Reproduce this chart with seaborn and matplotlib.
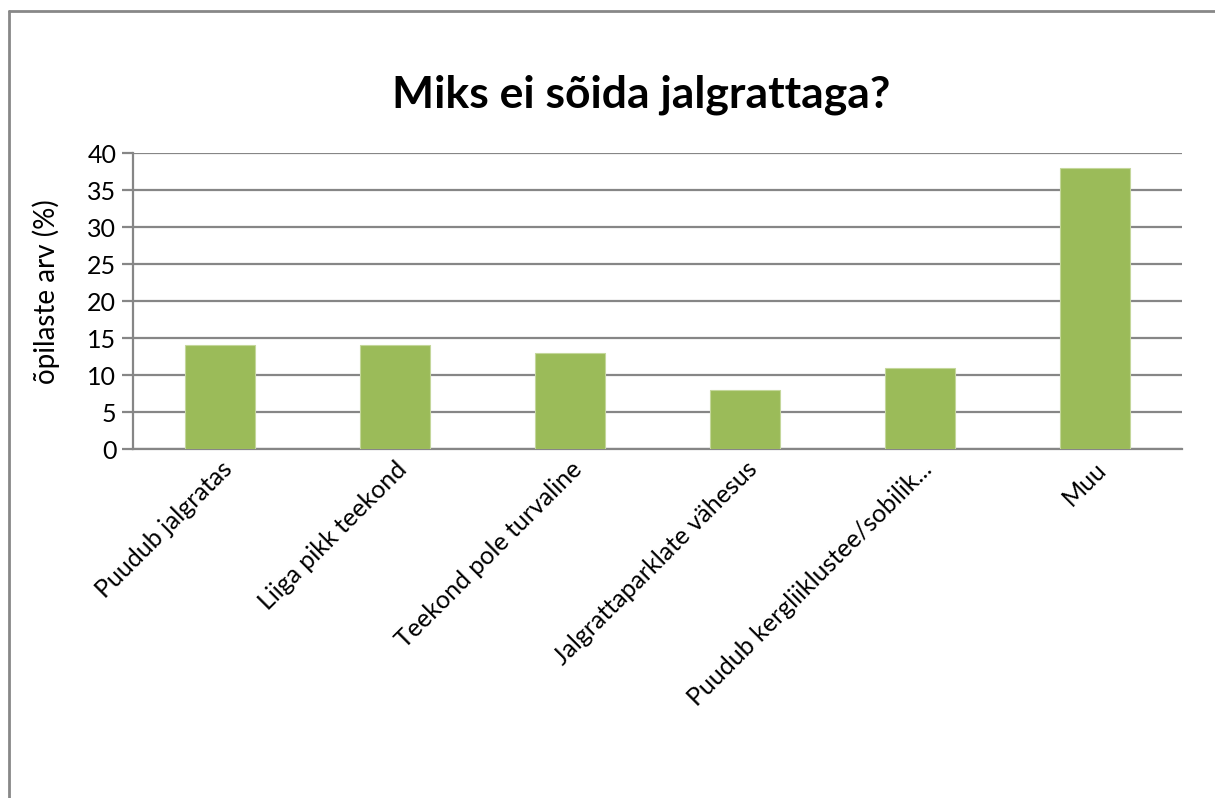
import matplotlib
matplotlib.use("Agg")
import matplotlib.pyplot as plt
import matplotlib.lines as mlines
import pandas as pd
import seaborn as sns

# data
categories = ["Puudub jalgratas", "Liiga pikk teekond", "Teekond pole turvaline",
              "Jalgrattaparklate vähesus", "Puudub kergliiklustee/sobilik...", "Muu"]
values = [14, 14, 13, 8, 11, 38]
yticks = [0, 5, 10, 15, 20, 25, 30, 35, 40]

df = pd.DataFrame({"reason": categories, "pct": values})

sns.set_style("white")
plt.rcParams['font.family'] = ['Lato', 'DejaVu Sans']
plt.rcParams['text.color'] = 'black'
plt.rcParams['axes.labelcolor'] = 'black'
plt.rcParams['xtick.color'] = 'black'
plt.rcParams['ytick.color'] = 'black'

fig = plt.figure(figsize=(12.15, 7.98), dpi=100)
ax = fig.add_axes([133/1215, 1-449/798, (1182-133)/1215, (449-153)/798])

sns.barplot(data=df, x="reason", y="pct", color="#9BBB59", width=0.4,
            saturation=1, edgecolor="#C4D79B", linewidth=0.8, ax=ax, zorder=3)

grid = "#868686"
ax.set_ylim(0, 40)
ax.set_xlim(-0.5, len(categories) - 0.5)
ax.set_yticks(yticks)
ax.yaxis.grid(True, color=grid, linewidth=1.6, zorder=0)
ax.set_axisbelow(True)
for s in ["top", "right"]:
    ax.spines[s].set_visible(False)
for s in ["left", "bottom"]:
    ax.spines[s].set_color(grid)
    ax.spines[s].set_linewidth(1.6)
ax.tick_params(axis="y", length=8, width=1.6, color=grid, left=True, labelsize=18,
               labelcolor="black", pad=4)
ax.tick_params(axis="x", length=0, labelsize=18, labelcolor="black", pad=6)
plt.setp(ax.get_xticklabels(), rotation=45, ha="right", rotation_mode="anchor")

ax.set_xlabel("")
ax.set_ylabel("õpilaste arv (%)", fontsize=20, color="black")
ax.yaxis.set_label_coords(-0.07, 0.53)
fig.text(0.528, 1-95/798, "Miks ei sõida jalgrattaga?", fontsize=32, fontweight="bold",
         ha="center", va="center", color="black")

# chart frame (only top and left edges visible in the crop)
fig.add_artist(mlines.Line2D([9/1215, 9/1215], [0, 1-11/798], color="#888888", linewidth=2,
                             transform=fig.transFigure))
fig.add_artist(mlines.Line2D([9/1215, 1], [1-11/798, 1-11/798], color="#888888", linewidth=2,
                             transform=fig.transFigure))

fig.savefig("out.png", dpi=100, facecolor="white")
